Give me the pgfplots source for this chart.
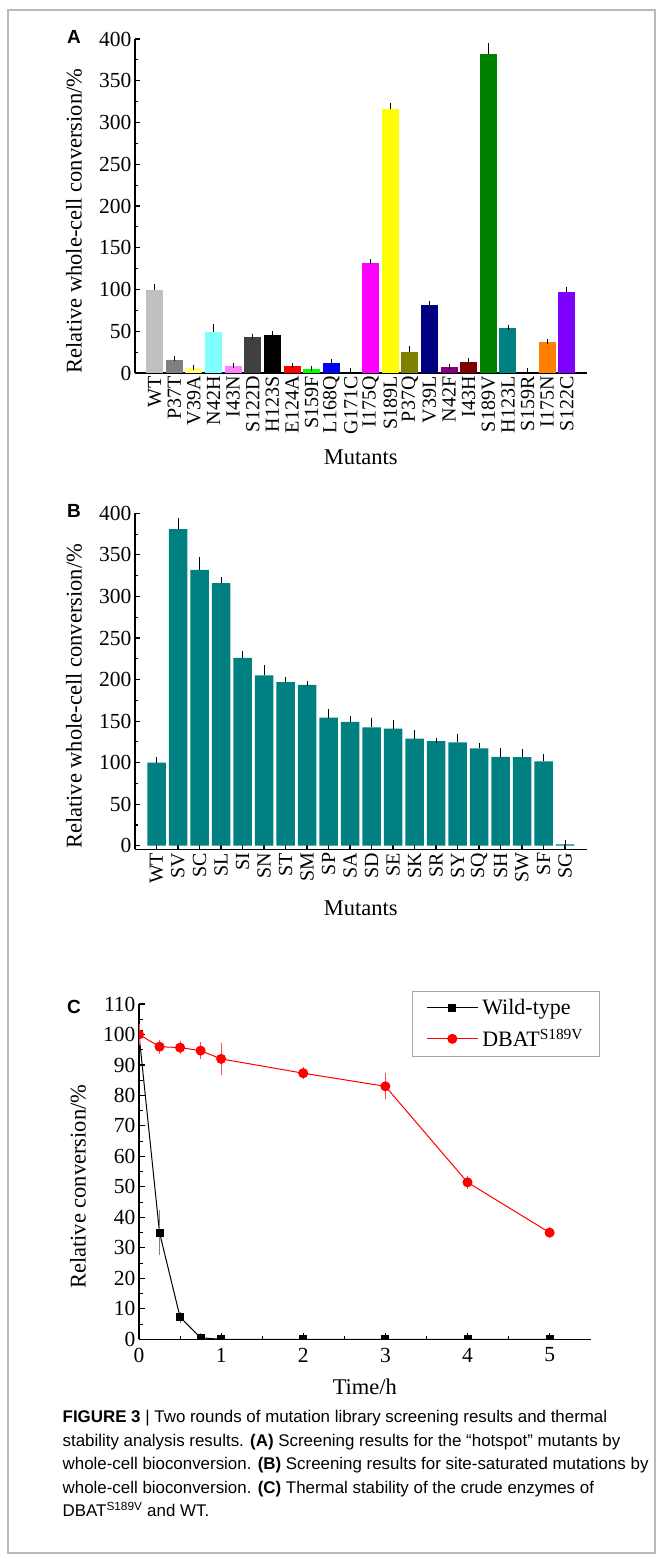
\documentclass[border=0pt]{standalone}
\usepackage{fontspec}
\setmainfont{Liberation Serif}
\setsansfont{Liberation Sans}
\usepackage{pgfplots}
\pgfplotsset{compat=1.18}

% Origin default palette
\definecolor{oLtGray}{HTML}{C0C0C0}
\definecolor{oGray}{HTML}{808080}
\definecolor{oLtYellow}{HTML}{FFFF80}
\definecolor{oLtCyan}{HTML}{80FFFF}
\definecolor{oLtMagenta}{HTML}{FF80FF}
\definecolor{oDkGray}{HTML}{404040}
\definecolor{oRed}{HTML}{FF0000}
\definecolor{oGreen}{HTML}{00FF00}
\definecolor{oBlue}{HTML}{0000FF}
\definecolor{oMagenta}{HTML}{FF00FF}
\definecolor{oYellow}{HTML}{FFFF00}
\definecolor{oOlive}{HTML}{808000}
\definecolor{oNavy}{HTML}{000080}
\definecolor{oPurple}{HTML}{800080}
\definecolor{oWine}{HTML}{800000}
\definecolor{oDkGreen}{HTML}{008000}
\definecolor{oTeal}{HTML}{008080}
\definecolor{oOrange}{HTML}{FF8000}
\definecolor{oViolet}{HTML}{8000FF}

\newcommand{\tickfont}{\fontsize{21.5}{25}\selectfont}
\newcommand{\labfont}{\fontsize{22.5}{27}\selectfont}

\pgfplotsset{
  origin/.style={
    scale only axis, axis lines=left, axis line style={-, line width=1.3pt},
    tick align=inside, tick style={black, line width=1.1pt},
    major tick length=5pt, minor tick length=3pt,
    ticklabel style={font=\tickfont}, label style={font=\labfont},
    /pgf/number format/assume math mode=true,
  },
  hbar/.style={ybar, bar shift=0pt, bar width=17pt, draw=none, fill=#1,
    error bars/.cd, y dir=plus, y explicit,
    error bar style={black, line width=0.8pt},
    error mark options={black, mark size=2.5pt, line width=0.8pt}},
}
\newcommand{\abar}[4]{\addplot[hbar=#1] coordinates {(#2,#3) +- (0,#4)};}

\pgfplotstableread{
x y e
0 100 4
1 381 10
2 332 13
3 316 4
4 226 5
5 205 9
6 197 3
7 193.5 2
8 154 7
9 149 4
10 142.5 8.5
11 141 7
12 129 7
13 126 1
14 124.5 7
15 117 4
16 107 7
17 106.5 7
18 101.5 5.5
19 1.5 2
}\satdata

\pgfplotstableread{
t y e
0 100 0
0.25 35 6
0.5 7.3 0.5
0.75 0.5 0.3
1 0 0
2 0 0
3 0 0
4 0 0
5 0 0
}\wtdata

\pgfplotstableread{
t y e
0 100 2
0.25 96 1
0.5 95.7 0.8
0.75 94.7 1.5
1 92 4
2 87.3 0.6
3 83 3
4 51.5 0.8
5 35 0.6
}\svdata

\begin{document}
\begin{tikzpicture}
\path[use as bounding box] (0,0) rectangle (662pt,-1560pt);
\draw[gray!55, line width=1.2pt] (8pt,-10pt) rectangle (655pt,-1553pt);

% ---------- A ----------
\begin{axis}[origin, at={(135pt,-373pt)}, anchor=south west,
  width=451.5pt, height=334pt,
  xmin=-1, xmax=22, ymin=0, ymax=400,
  ytick={0,50,...,400}, minor y tick num=1,
  xtick={0,...,21},
  xticklabels={WT,P37T,V39A,N42H,I43N,S122D,H123S,E124A,S159F,L168Q,G171C,I175Q,S189L,P37Q,V39L,N42F,I43H,S189V,H123L,S159R,I175N,S122C},
  xticklabel style={rotate=90, anchor=east, font=\fontsize{20}{24}\selectfont},
  xlabel={Mutants}, ylabel={Relative whole-cell conversion/\%},
  xlabel style={at={(axis description cs:0.5,-0.2515)}, anchor=center},
  ylabel style={at={(axis description cs:-0.1351,0.455)}, anchor=center}]
\abar{oLtGray}{0}{100}{4}
\abar{oGray}{1}{16}{1.5}
\abar{oLtYellow}{2}{5.5}{1.5}
\abar{oLtCyan}{3}{49.5}{6.5}
\abar{oLtMagenta}{4}{8}{1}
\abar{oDkGray}{5}{43}{1.2}
\abar{black}{6}{46}{1.2}
\abar{oRed}{7}{8}{1}
\abar{oGreen}{8}{4.4}{0.8}
\abar{oBlue}{9}{12.5}{1.2}
\abar{oMagenta}{11}{131.5}{2}
\abar{oYellow}{12}{316}{4}
\abar{oOlive}{13}{25.5}{3.5}
\abar{oNavy}{14}{81.8}{1.5}
\abar{oPurple}{15}{6.8}{1}
\abar{oWine}{16}{13.2}{2}
\abar{oDkGreen}{17}{382}{10}
\abar{oTeal}{18}{54}{1}
\abar{oOrange}{20}{36.7}{1.3}
\abar{oViolet}{21}{97.5}{2.5}
\end{axis}

% ---------- B ----------
\begin{axis}[origin, at={(135pt,-849.3pt)}, anchor=south west,
  width=451.5pt, height=336pt,
  xmin=-1, xmax=20, ymin=-4.3, ymax=400,
  ytick={0,50,...,400}, minor y tick num=1,
  xtick={0,...,19},
  xticklabels={WT,SV,SC,SL,SI,SN,ST,SM,SP,SA,SD,SE,SK,SR,SY,SQ,SH,SW,SF,SG},
  xticklabel style={rotate=90, anchor=east, font=\fontsize{20}{24}\selectfont},
  xlabel={Mutants}, ylabel={Relative whole-cell conversion/\%},
  xlabel style={at={(axis description cs:0.5,-0.1756)}, anchor=center},
  ylabel style={at={(axis description cs:-0.1351,0.455)}, anchor=center}]
\addplot[ybar, bar shift=0pt, bar width=18.5pt, draw=none, fill=oTeal,
  error bars/.cd, y dir=plus, y explicit,
  error bar style={black, line width=0.8pt},
  error mark options={black, mark size=2.5pt, line width=0.8pt}]
  table[x=x, y=y, y error=e] {\satdata};
\end{axis}

% ---------- C ----------
\begin{axis}[origin, at={(139pt,-1339.3pt)}, anchor=south west,
  width=451.7pt, height=335.3pt,
  xmin=0, xmax=5.5, ymin=0, ymax=110,
  xtick={0,...,5}, minor x tick num=1,
  ytick={0,10,...,110}, minor y tick num=1,
  major tick length=6pt, minor tick length=3.5pt,
  xticklabel style={yshift=-5pt},
  clip marker paths=true,
  xlabel={Time/h}, ylabel={Relative conversion/\%},
  xlabel style={at={(axis description cs:0.5,-0.143)}, anchor=center},
  ylabel style={at={(axis description cs:-0.135,0.455)}, anchor=center},
  legend style={at={(rel axis cs:0.604,1.039)}, anchor=north west,
    draw=gray!70, line width=1pt, font=\fontsize{22}{26}\selectfont,
    inner xsep=14pt, inner ysep=6pt, row sep=9pt,
    /tikz/every odd column/.append style={column sep=2pt}},
  legend cell align=left,
  legend image code/.code={\draw[mark repeat=2,mark phase=2,#1] plot coordinates {(0pt,0pt) (25.5pt,0pt) (51pt,0pt)};}]
\addplot[black, line width=1pt, mark=square*, mark size=3.5pt,
  error bars/.cd, y dir=both, y explicit,
  error bar style={gray, line width=0.8pt},
  error mark options={gray, mark size=4pt, line width=0.8pt}]
  table[x=t, y=y, y error=e] {\wtdata};
\addplot[red, line width=1pt, mark=*, mark size=4.5pt,
  error bars/.cd, y dir=both, y explicit,
  error bar style={red!70, line width=0.8pt},
  error mark options={red!70, mark size=4pt, line width=0.8pt}]
  table[x=t, y=y, y error=e] {\svdata};
\legend{Wild-type, DBAT\textsuperscript{S189V}}
\end{axis}

% panel letters
\node[font=\sffamily\bfseries\fontsize{19}{22}\selectfont] at (74pt,-37pt) {A};
\node[font=\sffamily\bfseries\fontsize{19}{22}\selectfont] at (74pt,-511pt) {B};
\node[font=\sffamily\bfseries\fontsize{19}{22}\selectfont] at (74pt,-1007pt) {C};

% caption
\node[anchor=north west, align=left, inner sep=0pt,
  font=\sffamily\fontsize{16.9}{23.5}\selectfont] at (62.5pt,-1410.5pt)
  {\textbf{FIGURE 3} | Two rounds of mutation library screening results and thermal\\
   stability analysis results. \textbf{(A)} Screening results for the “hotspot” mutants by\\
   whole-cell bioconversion. \textbf{(B)} Screening results for site-saturated mutations by\\
   whole-cell bioconversion. \textbf{(C)} Thermal stability of the crude enzymes of\\
   DBAT\textsuperscript{S189V} and WT.};
\end{tikzpicture}
\end{document}
